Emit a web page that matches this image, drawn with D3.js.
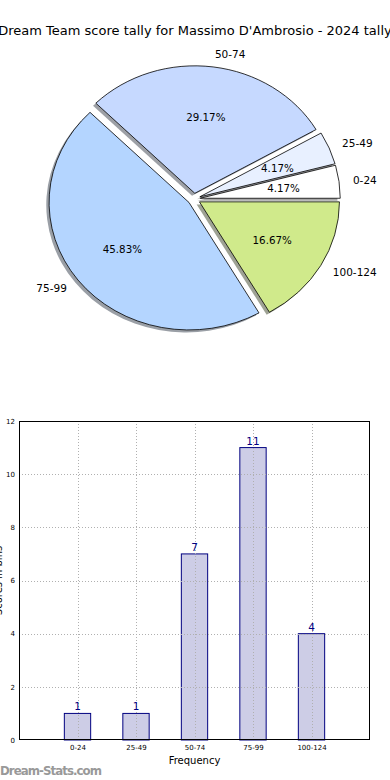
<!DOCTYPE html>
<html>
<head>
<meta charset="utf-8">
<script src="https://cdn.jsdelivr.net/npm/d3@7"></script>
<style>
  html, body { margin: 0; padding: 0; background: #fff; }
  svg { display: block; font-family: "DejaVu Sans", sans-serif; }
</style>
</head>
<body>
<svg id="chart" width="390" height="780"></svg>
<script>
const title = "Dream Team score tally for Massimo D'Ambrosio - 2024 tally";
const categories = ["0-24", "25-49", "50-74", "75-99", "100-124"];
const counts = [1, 1, 7, 11, 4];
const pieColors = ["#ffffff", "#e8f0ff", "#c6d9ff", "#b4d5ff", "#d0ea8b"];
const yTicks = [0, 2, 4, 6, 8, 10, 12];
const xLabel = "Frequency";
const yLabel = "Scores in bins";
const watermark = "Dream-Stats.com";

const svg = d3.select("#chart");

// Title
svg.append("text").attr("x", 195).attr("y", 35).attr("text-anchor", "middle")
  .attr("font-size", 13).attr("fill", "#000").text(title);

// ---- Pie ----
const cx = 194, cy = 199, rx = 140, ry = 127.5, explode = 0.045;
const total = d3.sum(counts);
const pie = d3.pie().sort(null).startAngle(Math.PI / 2).endAngle(Math.PI / 2 - 2 * Math.PI);
const arcs = pie(counts);
const arc = d3.arc().innerRadius(0).outerRadius(1);

const pieG = svg.append("g").attr("transform", `translate(${cx},${cy})`);
function unitDir(d) {
  const a = (d.startAngle + d.endAngle) / 2;
  return [Math.sin(a), -Math.cos(a)];
}
function offset(d) {
  const [ux, uy] = unitDir(d);
  return [ux * explode * rx, uy * explode * ry];
}
// shadows
arcs.forEach((d, i) => {
  const [ox, oy] = offset(d);
  const c = d3.rgb(pieColors[i]);
  pieG.append("path")
    .attr("d", arc(d))
    .attr("transform", `translate(${ox - 0.02 * rx},${oy + 0.02 * ry}) scale(${rx},${ry})`)
    .attr("fill", d3.rgb(c.r * 0.3, c.g * 0.3, c.b * 0.3))
    .attr("fill-opacity", 0.5)
    .attr("stroke", "none");
});
// wedges
arcs.forEach((d, i) => {
  const [ox, oy] = offset(d);
  pieG.append("path")
    .attr("d", arc(d))
    .attr("transform", `translate(${ox},${oy}) scale(${rx},${ry})`)
    .attr("fill", pieColors[i])
    .attr("stroke", "#000")
    .attr("stroke-width", 0.8)
    .attr("vector-effect", "non-scaling-stroke")
    .attr("stroke-linejoin", "round");
});
// labels
arcs.forEach((d, i) => {
  const [ox, oy] = offset(d);
  const [ux, uy] = unitDir(d);
  const lx = ox + 1.1 * rx * ux, ly = oy + 1.1 * ry * uy;
  pieG.append("text")
    .attr("x", lx).attr("y", ly)
    .attr("text-anchor", ux > 0 ? "start" : "end")
    .attr("dominant-baseline", "central")
    .attr("font-size", 10.5).attr("fill", "#000")
    .text(categories[i]);
  const px = ox + 0.6 * rx * ux, py = oy + 0.6 * ry * uy;
  pieG.append("text")
    .attr("x", px).attr("y", py)
    .attr("text-anchor", "middle")
    .attr("dominant-baseline", "central")
    .attr("font-size", 10.3).attr("fill", "#000")
    .text((100 * counts[i] / total).toFixed(2) + "%");
});

// ---- Bar chart ----
const L = 19, R = 370, T = 421, B = 740;
const x = d3.scaleLinear().domain([-1, categories.length]).range([L, R]);
const y = d3.scaleLinear().domain([0, 12]).range([B, T]);
const barW = 0.45;

const barG = svg.append("g");
barG.selectAll("rect.bar").data(counts).join("rect")
  .attr("class", "bar")
  .attr("x", (d, i) => x(i - barW / 2))
  .attr("width", (d, i) => x(i + barW / 2) - x(i - barW / 2))
  .attr("y", d => y(d))
  .attr("height", d => y(0) - y(d))
  .attr("fill", "#cdcde6")
  .attr("stroke", "#000080")
  .attr("stroke-width", 1);

// grid
const gridG = svg.append("g").attr("stroke", "#b0b0b0").attr("stroke-width", 1)
  .attr("stroke-dasharray", "1,2");
yTicks.slice(1, -1).forEach(t => {
  gridG.append("line").attr("x1", L).attr("x2", R)
    .attr("y1", Math.round(y(t)) + 0.5).attr("y2", Math.round(y(t)) + 0.5);
});
categories.forEach((c, i) => {
  gridG.append("line").attr("x1", Math.round(x(i)) + 0.5).attr("x2", Math.round(x(i)) + 0.5)
    .attr("y1", T).attr("y2", B);
});

// frame
svg.append("rect").attr("x", L + 0.5).attr("y", T + 0.5)
  .attr("width", R - L - 1).attr("height", B - T - 1)
  .attr("fill", "none").attr("stroke", "#000").attr("stroke-width", 1);

// axes ticks labels via d3 axes
const yAxis = d3.axisLeft(y).tickValues(yTicks).tickSize(0).tickPadding(4);
const yg = svg.append("g").attr("transform", `translate(${L},0)`).call(yAxis);
yg.select(".domain").remove();
yg.selectAll("text").attr("font-size", 7).attr("font-family", "DejaVu Sans, sans-serif").attr("fill", "#000");

const xAxis = d3.axisBottom(x).tickValues(d3.range(categories.length))
  .tickFormat(i => categories[i]).tickSize(0).tickPadding(5);
const xg = svg.append("g").attr("transform", `translate(0,${B})`).call(xAxis);
xg.select(".domain").remove();
xg.selectAll("text").attr("font-size", 7).attr("font-family", "DejaVu Sans, sans-serif").attr("fill", "#000");

// value labels
svg.append("g").selectAll("text").data(counts).join("text")
  .attr("x", (d, i) => x(i))
  .attr("y", d => y(d) - 3)
  .attr("text-anchor", "middle")
  .attr("font-size", 10.5)
  .attr("fill", "#000080")
  .text(d => d);

// axis labels
svg.append("text").attr("x", (L + R) / 2).attr("y", 764).attr("text-anchor", "middle")
  .attr("font-size", 10).attr("fill", "#000").text(xLabel);
svg.append("text").attr("transform", `translate(2,${(T + B) / 2}) rotate(-90)`)
  .attr("text-anchor", "middle").attr("font-size", 10).attr("fill", "#000").text(yLabel);

// watermark
svg.append("text").attr("x", 0).attr("y", 775).attr("font-size", 11.8)
  .attr("fill", "#999").attr("font-weight", "bold").attr("textLength", 102).text(watermark);
</script>
</body>
</html>
